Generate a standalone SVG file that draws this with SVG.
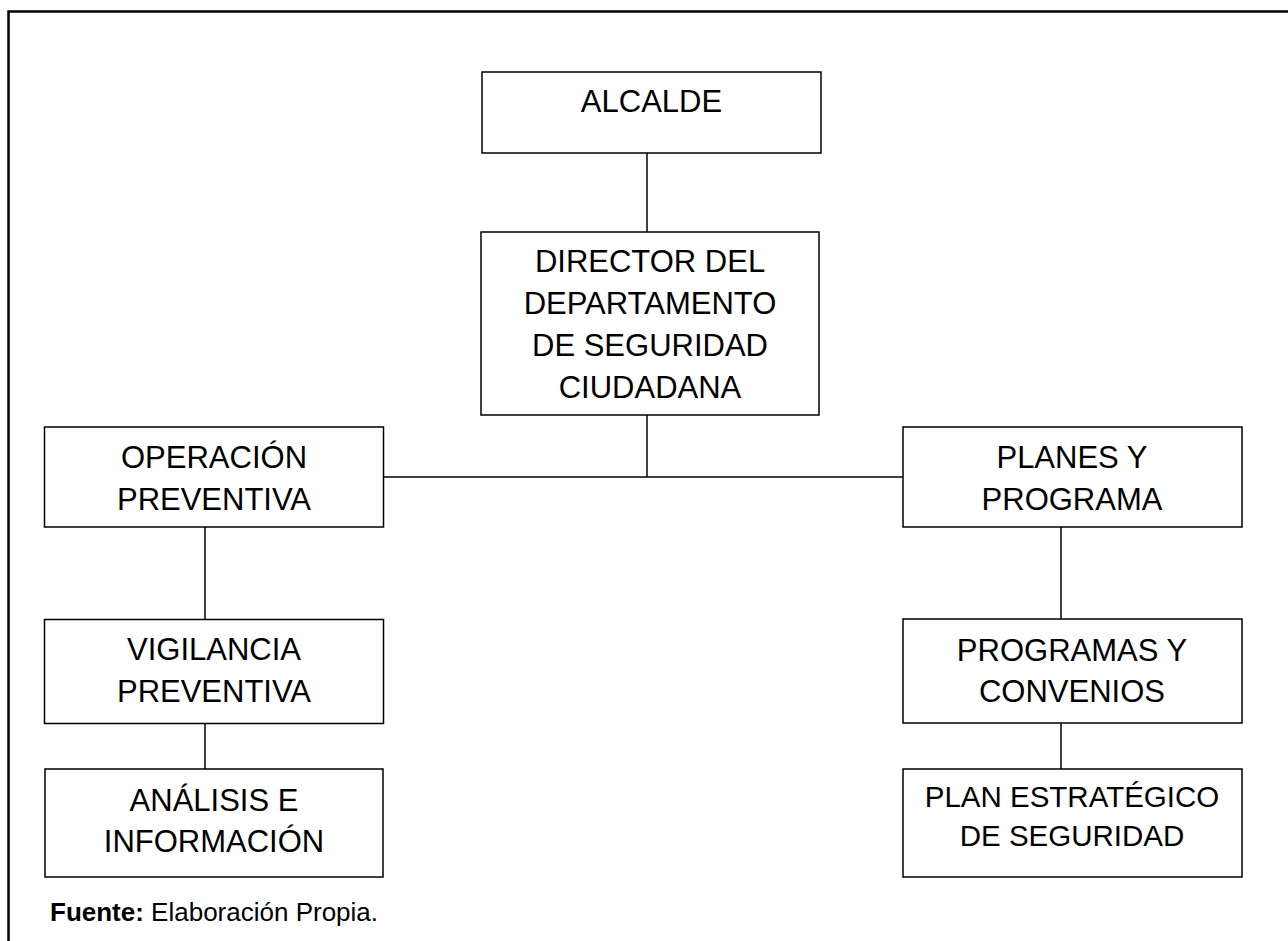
<svg xmlns="http://www.w3.org/2000/svg" width="1288" height="941" viewBox="0 0 1288 941">
<style>
.box{fill:#fff;stroke:#000;stroke-width:1.5}
.t{font-family:"Liberation Sans",Arial,sans-serif;font-size:31px;fill:#000;text-anchor:middle}
.t2{font-family:"Liberation Sans",Arial,sans-serif;font-size:29.5px;fill:#000;text-anchor:middle}
.c{stroke:#000;stroke-width:1.5;fill:none}
.note{font-family:"Liberation Sans",Arial,sans-serif;font-size:26px;fill:#000}
</style>
<rect x="0" y="0" width="1288" height="941" fill="#fff"/>
<path d="M8.5,941 V11.5 H1288" fill="none" stroke="#000" stroke-width="2.5"/>
<g id="connectors">
<path class="c" d="M647,153 V232"/>
<path class="c" d="M647,415 V477"/>
<path class="c" d="M384,477 H903"/>
<path class="c" d="M205,527 V619.5"/>
<path class="c" d="M205,723.5 V769"/>
<path class="c" d="M1061,527 V619"/>
<path class="c" d="M1061,723 V769"/>
</g>
<g id="alcalde">
<rect class="box" x="482" y="72" width="339" height="81"/>
<text class="t" x="651.5" y="112">ALCALDE</text>
</g>
<g id="director">
<rect class="box" x="481" y="232" width="338" height="183"/>
<text class="t" x="650" y="272">DIRECTOR DEL</text>
<text class="t" x="650" y="314">DEPARTAMENTO</text>
<text class="t" x="650" y="356">DE SEGURIDAD</text>
<text class="t" x="650" y="398">CIUDADANA</text>
</g>
<g id="operacion">
<rect class="box" x="44.5" y="427" width="339" height="100"/>
<text class="t" x="214" y="468">OPERACIÓN</text>
<text class="t" x="214" y="510">PREVENTIVA</text>
</g>
<g id="planes">
<rect class="box" x="903" y="427" width="339" height="100"/>
<text class="t" x="1072" y="468">PLANES Y</text>
<text class="t" x="1072" y="510">PROGRAMA</text>
</g>
<g id="vigilancia">
<rect class="box" x="44.5" y="619.5" width="339" height="104"/>
<text class="t" x="214" y="660">VIGILANCIA</text>
<text class="t" x="214" y="702">PREVENTIVA</text>
</g>
<g id="programas">
<rect class="box" x="903" y="619" width="339" height="104"/>
<text class="t" x="1072" y="661">PROGRAMAS Y</text>
<text class="t" x="1072" y="702">CONVENIOS</text>
</g>
<g id="analisis">
<rect class="box" x="45" y="769" width="338" height="108"/>
<text class="t" x="214" y="811">ANÁLISIS E</text>
<text class="t" x="214" y="852">INFORMACIÓN</text>
</g>
<g id="plan">
<rect class="box" x="903" y="769" width="339" height="108"/>
<text class="t2" x="1072" y="807">PLAN ESTRATÉGICO</text>
<text class="t2" x="1072" y="846">DE SEGURIDAD</text>
</g>
<text class="note" x="50" y="921"><tspan font-weight="bold">Fuente:</tspan> Elaboración Propia.</text>
</svg>
